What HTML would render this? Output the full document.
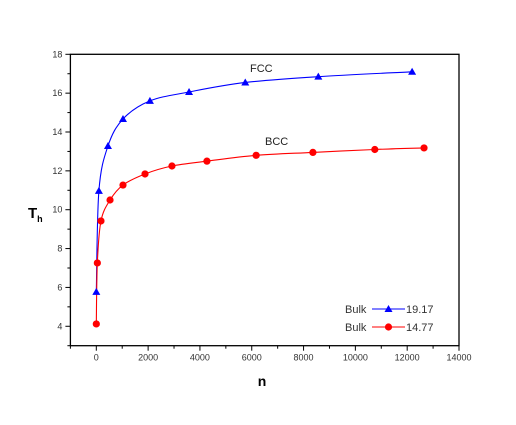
<!DOCTYPE html>
<html><head><meta charset="utf-8"><style>
body{margin:0;background:#fff}
svg text{font-family:"Liberation Sans",Arial,sans-serif}
</style></head><body>
<svg id="c" width="516" height="420" xmlns="http://www.w3.org/2000/svg"></svg>
<script>
const xTicks=[0,2000,4000,6000,8000,10000,12000,14000];
const yTicks=[4,6,8,10,12,14,16,18];
const fccN=[0,100,450,1030,2070,3580,5750,8570,12190];
const fccT=[5.77,10.97,13.28,14.67,15.6,16.06,16.55,16.85,17.1];
const bccN=[0,40,180,530,1030,1880,2920,4270,6170,8360,10750,12650];
const bccT=[4.12,7.26,9.42,10.5,11.27,11.84,12.25,12.5,12.8,12.95,13.1,13.18];
const legendLabels=["Bulk","19.17","Bulk","14.77"];

const L=70.4,R=459,T=54.3,B=345.7,x0=-1000,x1=14000,y0=3,y1=18;
const sx=v=>L+(v-x0)/(x1-x0)*(R-L);
const sy=v=>B-(v-y0)/(y1-y0)*(B-T);
const svg=document.getElementById('c');
const NS='http://www.w3.org/2000/svg';
function mk(tag,attrs,parent){const e=document.createElementNS(NS,tag);for(const k in attrs)e.setAttribute(k,attrs[k]);(parent||svg).appendChild(e);return e;}

let box=mk('rect',{x:L,y:T,width:R-L,height:B-T,fill:'none',stroke:'#000','stroke-width':1.3});



for(let v=-1000;v<=14000;v+=1000){
  const major=v%2000===0;
  let t=mk('line',{x1:sx(v),x2:sx(v),y1:B,y2:B+(major?5:3),stroke:'#000'});
  
  
}
xTicks.forEach(v=>{
  let t=mk('text',{x:sx(v),y:B+15,'font-size':9,'text-anchor':'middle',fill:'#333'});
  t.textContent=v;
  
  
});
for(let v=3;v<=18;v++){
  const major=v%2===0;
  let t=mk('line',{x1:L,x2:L-(major?5:3),y1:sy(v),y2:sy(v),stroke:'#000'});
  
  
}
yTicks.forEach(v=>{
  let t=mk('text',{x:L-8,y:sy(v)+3,'font-size':9,'text-anchor':'end',fill:'#333'});
  t.textContent=v;
  
  
});
let xt=mk('text',{x:262,y:386,'font-size':14,'font-weight':'bold','text-anchor':'middle'});
xt.textContent='n';


let yt=mk('text',{x:28,y:218,'font-size':15,'font-weight':'bold'});
yt.innerHTML='T<tspan font-size="9" dy="4">h</tspan>';



function curve(ns,ts){
  const p=ns.map((n,i)=>[sx(n),sy(ts[i])]);
  let d='M'+p[0][0]+','+p[0][1];
  for(let i=0;i<p.length-1;i++){
    const a=p[Math.max(0,i-1)],b=p[i],c=p[i+1],e=p[Math.min(p.length-1,i+2)];
    const c1=[b[0]+(c[0]-a[0])/6,b[1]+(c[1]-a[1])/6],c2=[c[0]-(e[0]-b[0])/6,c[1]-(e[1]-b[1])/6];
    d+=' C'+c1+' '+c2+' '+c;
  }
  return d;
}
function tri(cx,cy,col,name){
  let t=mk('polygon',{points:`${cx},${cy-4} ${cx-4},${cy+3} ${cx+4},${cy+3}`,fill:col});
  
  
}
function dot(cx,cy,col,name){
  let t=mk('circle',{cx:cx,cy:cy,r:3.6,fill:col});
  
  
}
let fl=mk('path',{d:curve(fccN,fccT),fill:'none',stroke:'#0000ff','stroke-width':1.1});


let bl=mk('path',{d:curve(bccN,bccT),fill:'none',stroke:'#ff0000','stroke-width':1.1});


fccN.forEach((n,i)=>tri(sx(n),sy(fccT[i]),'#0000ff','fcc-point'));
bccN.forEach((n,i)=>dot(sx(n),sy(bccT[i]),'#ff0000','bcc-point'));

let f=mk('text',{x:250,y:72,'font-size':11,fill:'#222'});
f.textContent='FCC';


let b=mk('text',{x:265,y:145,'font-size':11,fill:'#222'});
b.textContent='BCC';



[[309,'#0000ff',0],[327,'#ff0000',2]].forEach(([y,col,k],j)=>{
  let t1=mk('text',{x:345,y:y+4,'font-size':11,fill:'#333'});
  t1.textContent=legendLabels[k];
  
  
  let ln=mk('line',{x1:372,x2:405,y1:y,y2:y,stroke:col});
  
  
  if(j===0)tri(388.5,y,col,'legend-marker');else dot(388.5,y,col,'legend-marker');
  let t2=mk('text',{x:406,y:y+4,'font-size':11,fill:'#333'});
  t2.textContent=legendLabels[k+1];
  
  
});
</script>
</body></html>
